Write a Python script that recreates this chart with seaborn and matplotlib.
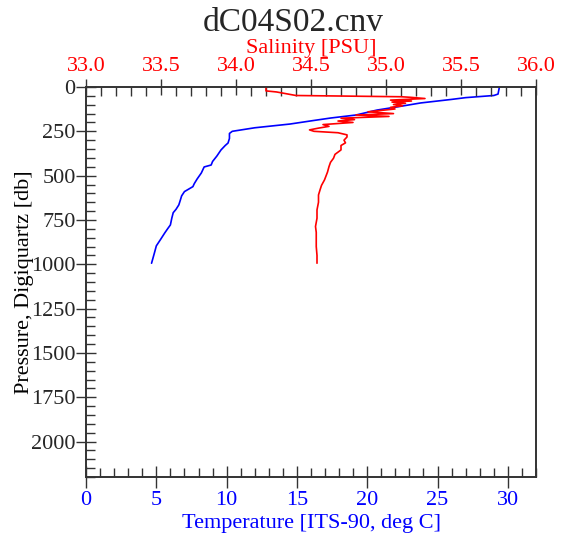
import matplotlib
matplotlib.use('Agg')
import numpy as np
import pandas as pd
import matplotlib.pyplot as plt
import seaborn as sns
from matplotlib.ticker import MultipleLocator, FormatStrFormatter

# CTD cast dC04S02.cnv
temp_pressure = [0, 40, 48, 60, 70, 90, 110, 130, 158, 175, 190, 209, 230, 250,
                 262, 290, 316, 330, 355, 390, 420, 440, 451, 485, 519, 545,
                 562, 590, 614, 640, 665, 690, 709, 740, 778, 800, 823, 860,
                 896, 940, 994]
temperature = [29.4, 29.3, 29.0, 27.0, 26.0, 23.8, 22.3, 20.7, 19.2, 17.4, 16.1,
               14.5, 12.0, 10.4, 10.2, 10.2, 10.1, 9.9, 9.6, 9.3, 9.0, 8.9, 8.4,
               8.2, 7.9, 7.7, 7.6, 7.0, 6.8, 6.7, 6.6, 6.4, 6.2, 6.1, 6.0, 5.8,
               5.6, 5.3, 5.0, 4.85, 4.66]

sal_pressure = [0, 22, 28, 48, 55, 58, 65, 74, 79, 85, 92, 99, 106, 115, 124,
                140, 150, 158, 166, 176, 184, 192, 200, 212, 222, 232, 242, 250,
                258, 270, 282, 300, 315, 330, 355, 380, 402, 425, 449, 480, 524,
                555, 581, 609, 650, 693, 740, 787, 820, 844, 900, 950, 994]
salinity = [34.20, 34.20, 34.27, 34.40, 35.10, 35.16, 35.26, 35.03, 35.17, 35.04,
            35.13, 35.05, 35.11, 35.03, 35.06, 34.88, 35.05, 34.80, 35.02, 34.70,
            34.79, 34.68, 34.78, 34.58, 34.62, 34.55, 34.49, 34.52, 34.68, 34.74,
            34.74, 34.72, 34.73, 34.70, 34.70, 34.66, 34.65, 34.63, 34.62, 34.61,
            34.59, 34.57, 34.56, 34.55, 34.55, 34.54, 34.54, 34.53, 34.535, 34.535,
            34.535, 34.54, 34.54]

temp_df = pd.DataFrame({'pressure': temp_pressure, 'temperature': temperature})
sal_df = pd.DataFrame({'pressure': sal_pressure, 'salinity': salinity})

sns.set_style('ticks')
plt.rcParams['font.family'] = ['Liberation Serif', 'DejaVu Serif']

BLUE = '#0000ff'
RED = '#ff0000'
EDGE = '#333333'

fig = plt.figure(figsize=(5.63, 5.36), dpi=100)
ax = fig.add_axes([0.1528, 0.110, 0.7992, 0.7277])

# temperature profile on the bottom axis
sns.lineplot(data=temp_df, x='temperature', y='pressure', sort=False,
             estimator=None, color=BLUE, lw=1.2, ax=ax)
ax.set_xlim(0, 32)
ax.set_ylim(2200, 0)
ax.xaxis.set_major_locator(MultipleLocator(5))
ax.xaxis.set_minor_locator(MultipleLocator(1))
ax.yaxis.set_major_locator(MultipleLocator(250))
ax.yaxis.set_minor_locator(MultipleLocator(50))
ax.set_xlabel('Temperature [ITS-90, deg C]', color=BLUE, fontsize=16, labelpad=3)
ax.set_ylabel('Pressure, Digiquartz [db]', color='black', fontsize=16, labelpad=-2)
ax.tick_params(axis='x', which='major', direction='inout', length=16,
               width=1, labelsize=16, pad=2, color=EDGE, labelcolor=BLUE)
ax.tick_params(axis='y', which='major', direction='inout', length=14,
               width=1, labelsize=16, pad=0.5, color=EDGE)
ax.tick_params(axis='both', which='minor', direction='in', length=6.5,
               width=1, color=EDGE)

# salinity profile on the top axis
ax2 = ax.twiny()
sns.lineplot(data=sal_df, x='salinity', y='pressure', sort=False,
             estimator=None, color=RED, lw=1.2, ax=ax2)
ax2.set_xlim(33.0, 36.0)
ax2.set_ylim(2200, 0)
ax2.xaxis.set_major_locator(MultipleLocator(0.5))
ax2.xaxis.set_minor_locator(MultipleLocator(0.1))
ax2.xaxis.set_major_formatter(FormatStrFormatter('%.1f'))
ax2.set_xlabel('Salinity [PSU]', color=RED, fontsize=16, labelpad=3)
ax2.set_ylabel('')
ax2.tick_params(axis='x', which='major', direction='inout', length=12,
                width=1, labelsize=16, pad=2, labelcolor=RED, color=EDGE)
ax2.tick_params(axis='x', which='minor', direction='in', length=6.5,
                width=1, color=EDGE)

for a in (ax, ax2):
    for s in a.spines.values():
        s.set_visible(True)
        s.set_linewidth(1.2)
        s.set_color(EDGE)

fig.text(293 / 563, 1 - 31 / 536, 'dC04S02.cnv', fontsize=24,
         ha='center', va='baseline')

plt.savefig('out.png', dpi=100)
